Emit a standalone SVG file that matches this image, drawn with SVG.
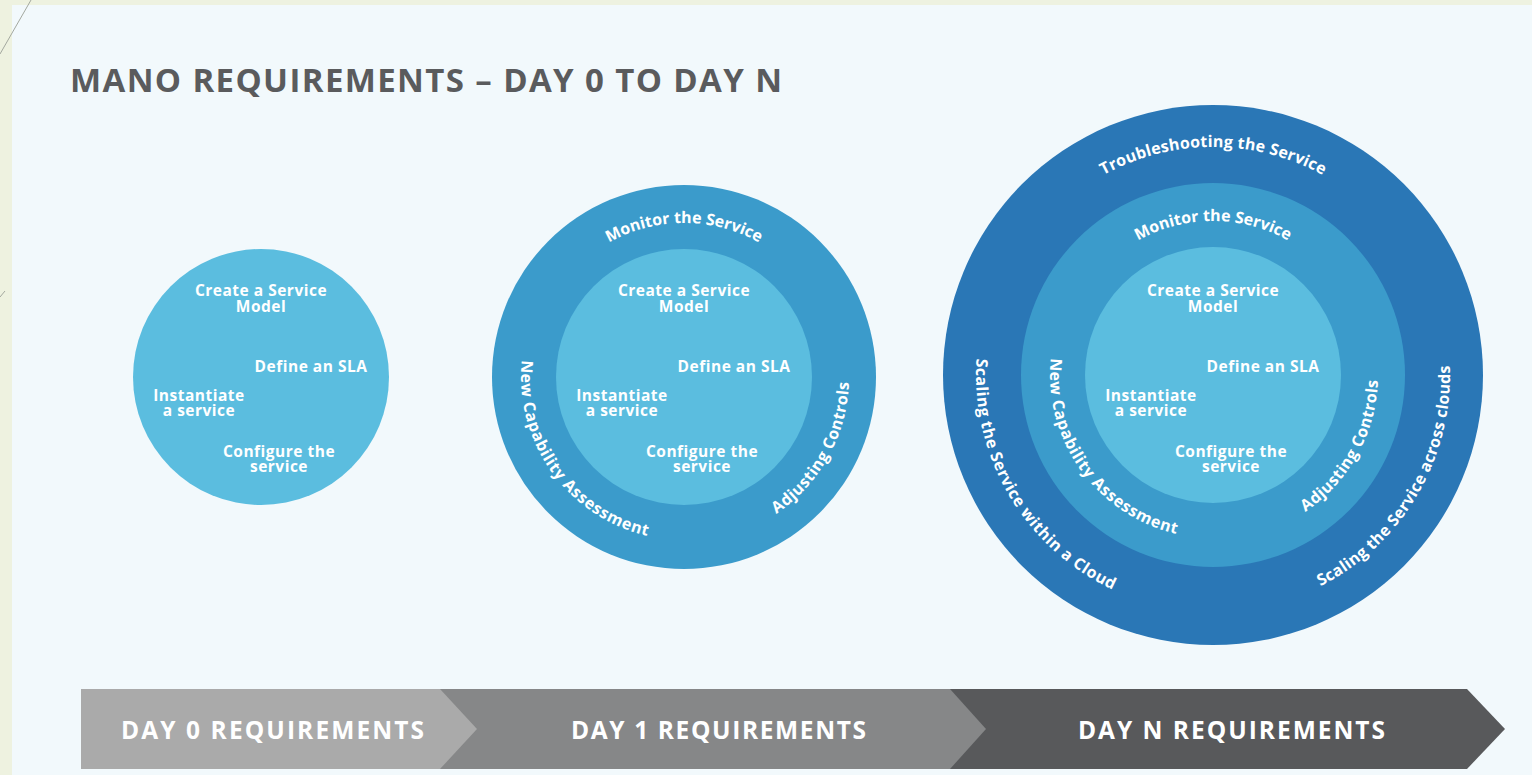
<svg xmlns="http://www.w3.org/2000/svg" width="1532" height="775" viewBox="0 0 1532 775">
<style>
.in{font-family:"Open Sans","Liberation Sans",sans-serif;font-weight:700;font-size:15.5px;fill:#fff;text-anchor:middle;letter-spacing:0.5px}
.arc{font-family:"Open Sans","Liberation Sans",sans-serif;font-weight:700;font-size:16px;fill:#fff}
.title{font-family:"Open Sans","Liberation Sans",sans-serif;font-weight:700;font-size:33px;fill:#5a5b5d}
.bar{font-family:"Open Sans","Liberation Sans",sans-serif;font-weight:700;font-size:24.5px;fill:#fff}
.c1{fill:#5bbddf}.c2{fill:#3b9bcb}.c3{fill:#2a77b6}
</style>
<defs>
<path id="p2top" d="M530,377 A154,154 0 0 1 838,377"/>
<path id="p2left" d="M521.9,360 A163,163 0 0 0 765.5,518.2"/>
<path id="p2right" d="M776.3,513.8 A165,165 0 0 0 826.9,294.5"/>
<path id="p3top" d="M1059,375 A154,154 0 0 1 1367,375"/>
<path id="p3left" d="M1050.9,358 A163,163 0 0 0 1294.5,516.2"/>
<path id="p3right" d="M1305.3,511.8 A165,165 0 0 0 1355.9,292.5"/>
<path id="p3otop" d="M985,375 A228,228 0 0 1 1441,375"/>
<path id="p3oleft" d="M976.6,358.5 A237,237 0 0 0 1254.1,608.4"/>
<path id="p3oright" d="M1320.6,586.2 A237,237 0 0 0 1435.7,293.9"/>
</defs>
<rect x="0" y="0" width="1532" height="775" fill="#eef2e0"/>
<rect x="12" y="5" width="1520" height="770" fill="#f2f9fc"/>
<line x1="31" y1="0" x2="0" y2="54" stroke="#a3a89f" stroke-width="1"/>
<line x1="0" y1="297" x2="5" y2="291" stroke="#a3a89f" stroke-width="1"/>
<text class="title" x="70" y="92" textLength="712" lengthAdjust="spacing">MANO REQUIREMENTS – DAY 0 TO DAY N</text>

<g id="day0-circle">
<circle class="c1" cx="261" cy="377" r="128"/>
<text class="in" x="261" y="296">Create a Service<tspan x="261" dy="16">Model</tspan></text>
<text class="in" x="311" y="372">Define an SLA</text>
<text class="in" x="199" y="401">Instantiate<tspan x="199" dy="15">a service</tspan></text>
<text class="in" x="279" y="457">Configure the<tspan x="279" dy="15">service</tspan></text>
</g>

<g id="day1-circle">
<circle class="c2" cx="684" cy="377" r="192"/>
<circle class="c1" cx="684" cy="377" r="128"/>
<text class="in" x="684" y="296">Create a Service<tspan x="684" dy="16">Model</tspan></text>
<text class="in" x="734" y="372">Define an SLA</text>
<text class="in" x="622" y="401">Instantiate<tspan x="622" dy="15">a service</tspan></text>
<text class="in" x="702" y="457">Configure the<tspan x="702" dy="15">service</tspan></text>
<text class="arc"><textPath href="#p2top" startOffset="50%" text-anchor="middle" textLength="157" lengthAdjust="spacing">Monitor the Service</textPath></text>
<text class="arc"><textPath href="#p2left" textLength="236" lengthAdjust="spacing">New Capability Assessment</textPath></text>
<text class="arc"><textPath href="#p2right" textLength="156" lengthAdjust="spacing">Adjusting Controls</textPath></text>
</g>

<g id="dayn-circle">
<circle class="c3" cx="1213" cy="375" r="270"/>
<circle class="c2" cx="1213" cy="375" r="192"/>
<circle class="c1" cx="1213" cy="375" r="128"/>
<text class="in" x="1213" y="296">Create a Service<tspan x="1213" dy="16">Model</tspan></text>
<text class="in" x="1263" y="372">Define an SLA</text>
<text class="in" x="1151" y="401">Instantiate<tspan x="1151" dy="15">a service</tspan></text>
<text class="in" x="1231" y="457">Configure the<tspan x="1231" dy="15">service</tspan></text>
<text class="arc"><textPath href="#p3top" startOffset="50%" text-anchor="middle" textLength="157" lengthAdjust="spacing">Monitor the Service</textPath></text>
<text class="arc"><textPath href="#p3left" textLength="236" lengthAdjust="spacing">New Capability Assessment</textPath></text>
<text class="arc"><textPath href="#p3right" textLength="156" lengthAdjust="spacing">Adjusting Controls</textPath></text>
<text class="arc"><textPath href="#p3otop" startOffset="50%" text-anchor="middle" textLength="229" lengthAdjust="spacing">Troubleshooting the Service</textPath></text>
<text class="arc"><textPath href="#p3oleft" textLength="285" lengthAdjust="spacing">Scaling the Service within a Cloud</textPath></text>
<text class="arc"><textPath href="#p3oright" textLength="270" lengthAdjust="spacing">Scaling the Service across clouds</textPath></text>
</g>

<g id="timeline">
<g id="dayn-bar">
<polygon points="900,689 1467,689 1505,729 1467,769 900,769" fill="#58595b"/>
<text class="bar" x="1078" y="739" textLength="307" lengthAdjust="spacing">DAY N REQUIREMENTS</text>
</g>
<g id="day1-bar">
<polygon points="420,689 950,689 986,729 950,769 420,769" fill="#868788"/>
<text class="bar" x="571" y="739" textLength="295" lengthAdjust="spacing">DAY 1 REQUIREMENTS</text>
</g>
<g id="day0-bar">
<polygon points="81,689 440,689 477,729 440,769 81,769" fill="#aaaaaa"/>
<text class="bar" x="121" y="739" textLength="303" lengthAdjust="spacing">DAY 0 REQUIREMENTS</text>
</g>
</g>
</svg>
